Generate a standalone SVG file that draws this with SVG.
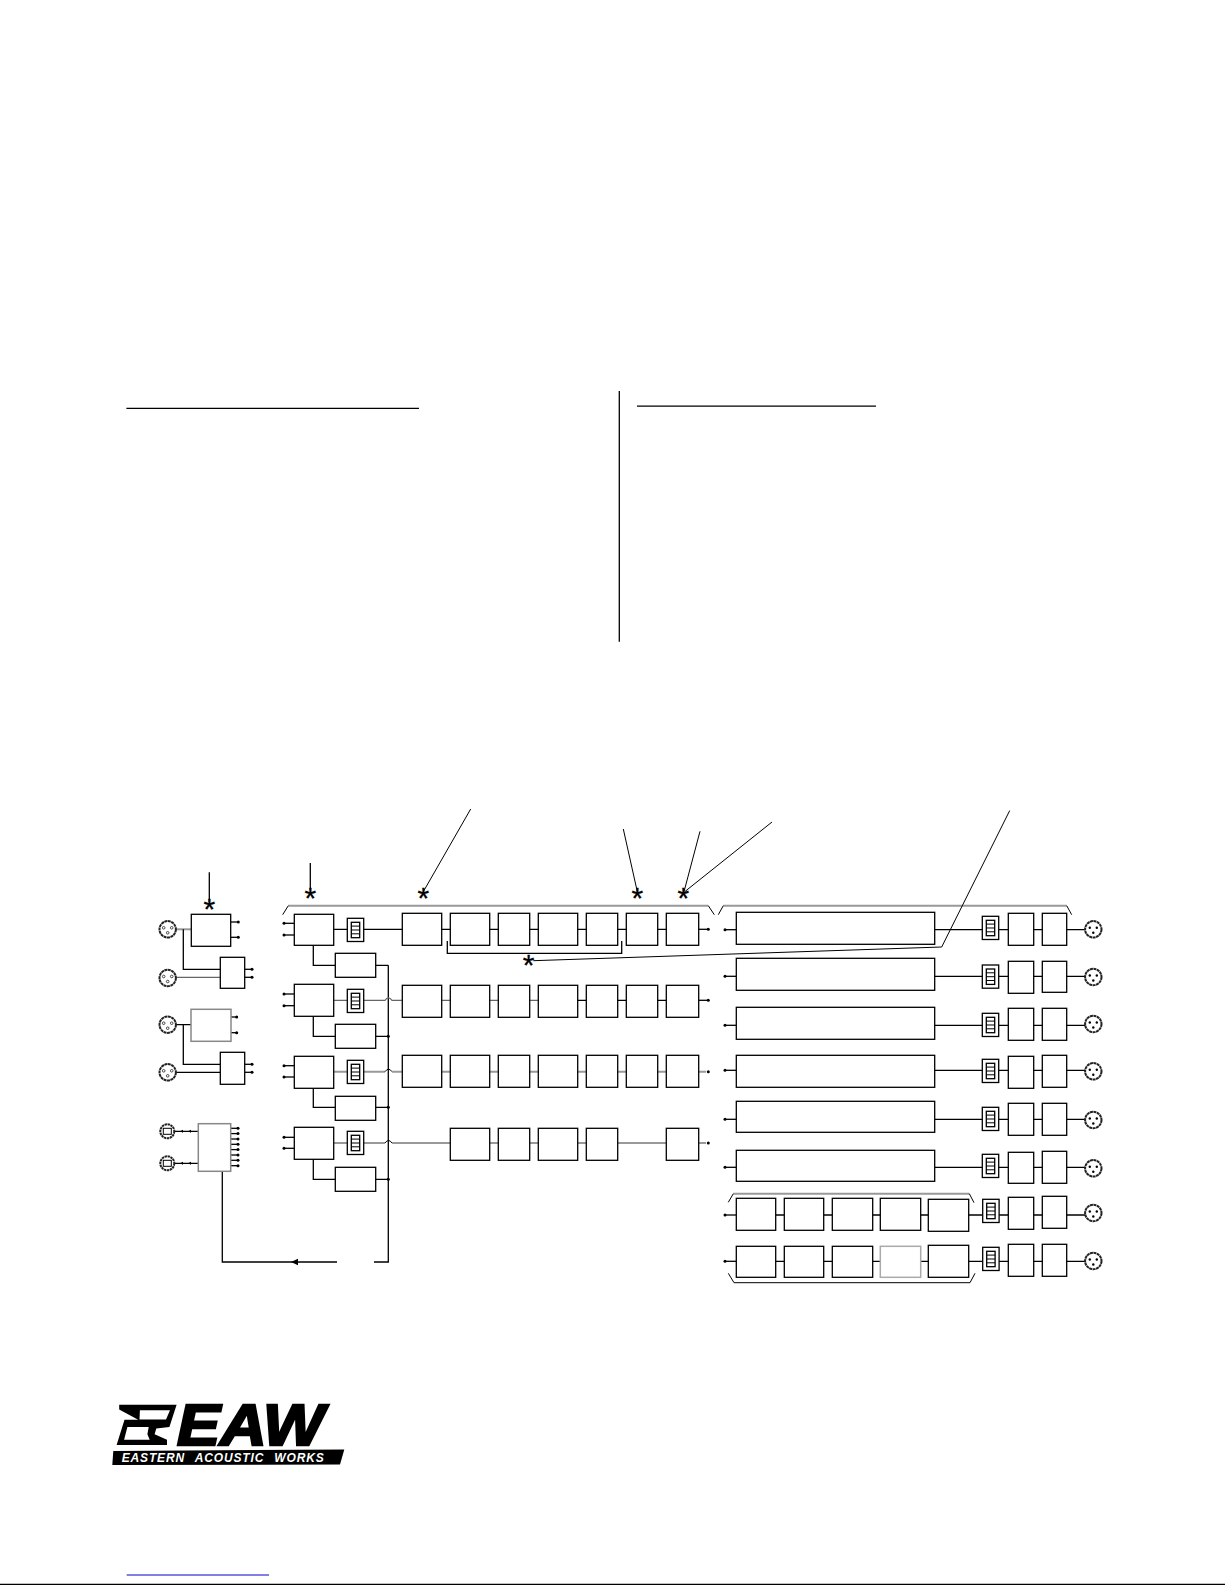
<svg xmlns="http://www.w3.org/2000/svg" xmlns:xlink="http://www.w3.org/1999/xlink" width="1225" height="1585" viewBox="0 0 1225 1585">
<style>
text{font-family:"Liberation Sans",Arial,sans-serif}
.b{fill:#fff;stroke:#000;stroke-width:1.3}
.gb{fill:#fff;stroke:#888;stroke-width:1.5}
.k{fill:none;stroke:#000;stroke-width:1.3}
.t{fill:none;stroke:#000;stroke-width:1}
.g{fill:none;stroke:#999;stroke-width:2}
.m{fill:none;stroke:#666;stroke-width:1.2}
.d{marker-end:url(#dot)}
.s{font-size:30px;text-anchor:middle;fill:#000;stroke:#000;stroke-width:.3}
.x{fill:#fff;stroke:#222;stroke-width:2;stroke-dasharray:3 .5}
</style>
<defs>
<marker id="dot" markerUnits="userSpaceOnUse" markerWidth="4" markerHeight="4" refX="2" refY="2"><circle cx="2" cy="2" r="1.5" fill="#000"/></marker>
<g id="xi"><circle class="x" r="8.2"/><g fill="#fff" stroke="#222" stroke-width=".8"><circle cx="-4" cy="-1.5" r="1.3"/><circle cx="4" cy="-1.5" r="1.3"/><circle cx="0" cy="3.5" r="1.3"/></g></g>
<g id="xo"><circle class="x" r="8.2"/><g fill="#000"><circle cx="-3.5" cy="-1.5" r="1.2"/><circle cx="3.5" cy="-1.5" r="1.2"/><circle cx="0" cy="3.5" r="1.2"/></g></g>
<g id="dg"><circle r="7" fill="#fff" stroke="#222" stroke-width="2" stroke-dasharray="2.4 .6"/><rect x="-4" y="-3" width="8" height="6" fill="#fff" stroke="#000"/></g>
<g id="mt"><rect class="b" width="16.4" height="23.2"/><rect class="b" x="4" y="4" width="8.4" height="15.4"/><path class="t" d="M4,7.8H12.4M4,11.7H12.4M4,15.5H12.4"/></g>
</defs>
<rect width="1225" height="1585" fill="#fff"/>
<g id="page-rules">
<path class="k" d="M126.4,408.3H419M637,406.2H876M619.3,391V641.7"/>
<path d="M126.7,1575H269" stroke="#0000cc" stroke-width="1" fill="none"/>
<path d="M0,1584.3H1225" stroke="#000" stroke-width="1.3" fill="none"/>
</g>
<g id="connectors">
<path class="g" d="M176,929.3H191"/>
<path class="k" d="M183.3,929.3V969.3H220.3"/>
<path class="m" d="M176,977.3H220.3"/>
<path class="k" d="M176,1024.7H191M183.3,1024.7V1064.3H220.3M176,1072.3H220.3"/>
<path class="k d" d="M230.7,922H238.3"/><path class="k d" d="M230.7,937.3H238.3"/>
<path class="k d" d="M244.7,969.3H252"/><path class="k d" d="M244.7,977.3H252"/>
<path class="k d" d="M231,1017H236.7"/><path class="k d" d="M231,1032.7H236.7"/>
<path class="k d" d="M244.7,1064.3H252"/><path class="k d" d="M244.7,1072.3H252"/>
<path class="k" d="M175,1131.3H198.3M175,1163.3H198.3"/>
<path d="M180,1131.3l3,-1.5v3zM188,1131.3l3,-1.5v3zM180,1163.3l3,-1.5v3zM188,1163.3l3,-1.5v3z" fill="#000"/>
<path class="k d" d="M230.7,1128.3H238"/><path class="k d" d="M230.7,1133.6H238"/><path class="k d" d="M230.7,1139H238"/><path class="k d" d="M230.7,1144.3H238"/><path class="k d" d="M230.7,1149.6H238"/><path class="k d" d="M230.7,1155H238"/><path class="k d" d="M230.7,1160.3H238"/><path class="k d" d="M230.7,1165.7H238"/>
<path class="k" d="M222.3,1171V1262H337"/>
<path d="M291,1262l7,-3.2v6.4z" fill="#000"/>
<path class="k" d="M374,1262H388.3V965.3"/>
<path class="k d" d="M294.3,923.3H284"/><path class="k d" d="M294.3,935H284"/>
<path class="k d" d="M294.3,994H284"/><path class="k d" d="M294.3,1005.7H284"/>
<path class="k d" d="M294.3,1065.7H284"/><path class="k d" d="M294.3,1077H284"/>
<path class="k d" d="M294.3,1137.3H284"/><path class="k d" d="M294.3,1148.3H284"/>
<path class="k" d="M313.3,945.3V965.3H335.3M375.7,965.3H388.3"/>
<path class="k d" d="M313.3,1016.3V1036.3H335.3M375.7,1036.3H388.3"/>
<path class="k d" d="M313.3,1088.3V1107.3H335.3M375.7,1107.3H388.3"/>
<path class="k d" d="M313.3,1159.3V1179.3H335.3M375.7,1179.3H388.3"/>
<path class="k" d="M333.7,929.3H666"/><path class="k d" d="M698.7,929.3H708.3"/>
<path class="m" d="M333.7,1000.3H385q3.5,-5 7,0H538.3"/><path class="k" d="M577,1000.3H666"/><path class="k d" d="M698.7,1000.3H708.3"/>
<path class="g" d="M333.7,1071.7H385"/><path class="t" d="M385,1071.7q3.5,-5 7,0"/><path class="g" d="M392,1071.7H666M698.7,1071.7H706"/>
<path class="g" d="M333.7,1143H385"/><path class="t" d="M385,1143q3.5,-5 7,0"/><path class="g" d="M392,1143H666M698.7,1143H706"/>
<circle cx="708.3" cy="1071.7" r="1.5"/><circle cx="708.3" cy="1143" r="1.5"/>
<path class="k d" d="M736.3,929.7H725"/><path class="k" d="M934.7,929.7H1085"/>
<path class="k d" d="M736.3,976.3H725"/><path class="k" d="M934.7,976.3H1085"/>
<path class="k d" d="M736.3,1025.3H725"/><path class="k" d="M934.7,1025.3H1085"/>
<path class="k d" d="M736.3,1070.3H725"/><path class="k" d="M934.7,1070.3H1085"/>
<path class="k d" d="M736.3,1119.3H725"/><path class="k" d="M934.7,1119.3H1085"/>
<path class="k d" d="M736.3,1167.3H725"/><path class="k" d="M934.7,1167.3H1085"/>
<path class="k d" d="M736.3,1215H725"/><path class="k" d="M736.3,1215H1085"/>
<path class="k d" d="M736.3,1261.3H725"/><path class="k" d="M736.3,1261.3H1085"/>
</g>
<g id="in-xlr-1"><use href="#xi" x="167.7" y="929.3"/></g>
<g id="in-xlr-2"><use href="#xi" x="167.7" y="978"/></g>
<g id="in-xlr-3"><use href="#xi" x="167.7" y="1024.7"/></g>
<g id="in-xlr-4"><use href="#xi" x="167.7" y="1072.3"/></g>
<g id="in-dig-1"><use href="#dg" x="167.3" y="1131.3"/></g>
<g id="in-dig-2"><use href="#dg" x="167.3" y="1163.3"/></g>
<g id="in-a"><rect class="b" x="191.3" y="914.3" width="39.4" height="32"/></g>
<g id="in-a2"><rect class="b" x="220.3" y="957.3" width="24.4" height="31"/></g>
<g id="in-b"><rect class="gb" x="191" y="1009.3" width="40" height="32"/></g>
<g id="in-b2"><rect class="b" x="220.3" y="1052.3" width="24.4" height="32"/></g>
<g id="in-dig"><rect class="gb" x="198.3" y="1123.7" width="32.4" height="47.6"/></g>
<g id="ch1"><rect class="b" x="294.3" y="914.3" width="39.4" height="31"/><use href="#mt" x="347.3" y="918.3"/><rect class="b" x="335.3" y="953.3" width="40.4" height="24"/></g>
<g id="ch2"><rect class="b" x="294.3" y="984.3" width="39.4" height="32"/><use href="#mt" x="347.3" y="989.3"/><rect class="b" x="335.3" y="1024.3" width="40.4" height="24"/></g>
<g id="ch3"><rect class="b" x="294.3" y="1056.3" width="39.4" height="32"/><use href="#mt" x="347.3" y="1060.3"/><rect class="b" x="335.3" y="1096.3" width="40.4" height="24"/></g>
<g id="ch4"><rect class="b" x="294.3" y="1127.3" width="39.4" height="32"/><use href="#mt" x="347.3" y="1131.3"/><rect class="b" x="335.3" y="1167.3" width="40.4" height="24"/></g>
<g id="row1">
<rect class="b" x="402.3" y="913.3" width="39.4" height="32"/><rect class="b" x="450.3" y="913.3" width="39.4" height="32"/><rect class="b" x="498.3" y="913.3" width="31.4" height="32"/><rect class="b" x="538.3" y="913.3" width="39.4" height="32"/><rect class="b" x="586.3" y="913.3" width="31.4" height="32"/><rect class="b" x="626.3" y="913.3" width="31.4" height="32"/><rect class="b" x="666.3" y="913.3" width="32.4" height="32"/>
</g>
<g id="row2">
<rect class="b" x="402.3" y="985.3" width="39.4" height="32"/><rect class="b" x="450.3" y="985.3" width="39.4" height="32"/><rect class="b" x="498.3" y="985.3" width="31.4" height="32"/><rect class="b" x="538.3" y="985.3" width="39.4" height="32"/><rect class="b" x="586.3" y="985.3" width="31.4" height="32"/><rect class="b" x="626.3" y="985.3" width="31.4" height="32"/><rect class="b" x="666.3" y="985.3" width="32.4" height="32"/>
</g>
<g id="row3">
<rect class="b" x="402.3" y="1055.3" width="39.4" height="32"/><rect class="b" x="450.3" y="1055.3" width="39.4" height="32"/><rect class="b" x="498.3" y="1055.3" width="31.4" height="32"/><rect class="b" x="538.3" y="1055.3" width="39.4" height="32"/><rect class="b" x="586.3" y="1055.3" width="31.4" height="32"/><rect class="b" x="626.3" y="1055.3" width="31.4" height="32"/><rect class="b" x="666.3" y="1055.3" width="32.4" height="32"/>
</g>
<g id="row4">
<rect class="b" x="450.3" y="1128.3" width="39.4" height="32"/><rect class="b" x="498.3" y="1128.3" width="31.4" height="32"/><rect class="b" x="538.3" y="1128.3" width="39.4" height="32"/><rect class="b" x="586.3" y="1128.3" width="31.4" height="32"/><rect class="b" x="666.3" y="1128.3" width="32.4" height="32"/>
</g>
<g id="out1"><rect class="b" x="736.3" y="912.3" width="198.4" height="32"/><use href="#mt" x="982.3" y="916.3"/><rect class="b" x="1008.3" y="913.3" width="25.4" height="32"/><rect class="b" x="1042.3" y="913.3" width="24.4" height="32"/><use href="#xo" x="1093.3" y="929.3"/></g>
<g id="out2"><rect class="b" x="736.3" y="958.3" width="198.4" height="32"/><use href="#mt" x="982.3" y="965"/><rect class="b" x="1008.3" y="961.3" width="25.4" height="32"/><rect class="b" x="1042.3" y="961.3" width="24.4" height="31"/><use href="#xo" x="1093.3" y="977"/></g>
<g id="out3"><rect class="b" x="736.3" y="1007.3" width="198.4" height="32"/><use href="#mt" x="982.3" y="1013.3"/><rect class="b" x="1008.3" y="1008.3" width="25.4" height="32"/><rect class="b" x="1042.3" y="1008.3" width="24.4" height="32"/><use href="#xo" x="1093.3" y="1024"/></g>
<g id="out4"><rect class="b" x="736.3" y="1055.3" width="198.4" height="32"/><use href="#mt" x="982.3" y="1059.3"/><rect class="b" x="1008.3" y="1056.3" width="25.4" height="32"/><rect class="b" x="1042.3" y="1055.3" width="24.4" height="32"/><use href="#xo" x="1093.3" y="1071.3"/></g>
<g id="out5"><rect class="b" x="736.3" y="1101.3" width="198.4" height="31"/><use href="#mt" x="982.3" y="1107.3"/><rect class="b" x="1008.3" y="1103.3" width="25.4" height="32"/><rect class="b" x="1042.3" y="1103.3" width="24.4" height="32"/><use href="#xo" x="1093.3" y="1120"/></g>
<g id="out6"><rect class="b" x="736.3" y="1150.3" width="198.4" height="31"/><use href="#mt" x="982.3" y="1154.3"/><rect class="b" x="1008.3" y="1152.3" width="25.4" height="31"/><rect class="b" x="1042.3" y="1151.3" width="24.4" height="32"/><use href="#xo" x="1093.3" y="1168.3"/></g>
<g id="out7"><rect class="b" x="736.3" y="1198.3" width="39.4" height="32"/><rect class="b" x="784.3" y="1198.3" width="39.4" height="32"/><rect class="b" x="832.3" y="1198.3" width="40.4" height="32"/><rect class="b" x="880.3" y="1198.3" width="40.4" height="32"/><rect class="b" x="928.3" y="1199.3" width="40.4" height="32"/><use href="#mt" x="982.7" y="1199.3"/><rect class="b" x="1008.3" y="1197.3" width="25.4" height="32"/><rect class="b" x="1042.3" y="1196.3" width="24.4" height="32"/><use href="#xo" x="1093.3" y="1213"/></g>
<g id="out8"><rect class="b" x="736.3" y="1246.3" width="39.4" height="31"/><rect class="b" x="784.3" y="1246.3" width="39.4" height="31"/><rect class="b" x="832.3" y="1246.3" width="40.4" height="31"/><rect class="gb" x="880.3" y="1246.3" width="40.4" height="31" style="stroke:#aaa"/><rect class="b" x="928.3" y="1245.3" width="40.4" height="32"/><use href="#mt" x="982.7" y="1247.3"/><rect class="b" x="1008.3" y="1244.3" width="25.4" height="32"/><rect class="b" x="1042.3" y="1244.3" width="24.4" height="32"/><use href="#xo" x="1093.3" y="1261"/></g>
<g id="brackets">
<path class="g" d="M288.3,905.7H708.3M723.3,905.7H1066.7M733.3,1193.7H969.3"/>
<path class="t" d="M282.7,914.7L288.3,905.7M708.3,905.7L714.3,914.7M718.3,914.7L723.3,905.7M1066.7,905.7L1071.7,914.7M728.3,1202.3L733.3,1193.7M969.3,1193.7L974,1202.7"/>
<path class="t" d="M728.3,1273.3L734,1282.7H970L975,1273.3"/>
<path class="k" d="M447.3,941V953.3H621.7V941"/>
</g>
<g id="leaders">
<path class="k" d="M209.3,872.3V901.7M310.3,863V890"/>
<path class="t" d="M470.7,809L423.3,891.7M623.3,829L637.3,891.7M700,831.3L684,891.7M772,822L684.7,891.7"/>
<path class="t" d="M533.3,960.7L941.7,947L1009.7,810.6"/>
<text class="s" x="209.3" y="918.7">*</text>
<text class="s" x="310.3" y="907.7">*</text>
<text class="s" x="423.3" y="908.3">*</text>
<text class="s" x="637.3" y="908.3">*</text>
<text class="s" x="683.3" y="908.3">*</text>
<text class="s" x="528.7" y="974.7">*</text>
</g>
<g id="logo">
<path fill="#000" fill-rule="evenodd" d="M119.2,1404.8H176.6L169.4,1427L156.3,1428.6L154.6,1434.3L167,1439.7V1445H116.6L124.5,1419.7H138.2L119.2,1409.5ZM139.9,1410.2H170L166,1419.6H139.5ZM127.4,1427H148.7L147.4,1434.3L149.7,1439.7H124.1Z"/>
<text x="177" y="1445" font-size="57" font-weight="bold" font-style="italic" textLength="147" lengthAdjust="spacingAndGlyphs" stroke="#000" stroke-width="2.4" fill="#000">EAW</text>
<path fill="#000" d="M113.3,1451L344.3,1449.5L340,1464.5L112.3,1465Z"/>
<text x="121.7" y="1461.8" font-size="12" font-weight="bold" font-style="italic" fill="#fff" word-spacing="6" textLength="202">EASTERN ACOUSTIC WORKS</text>
</g>
</svg>
